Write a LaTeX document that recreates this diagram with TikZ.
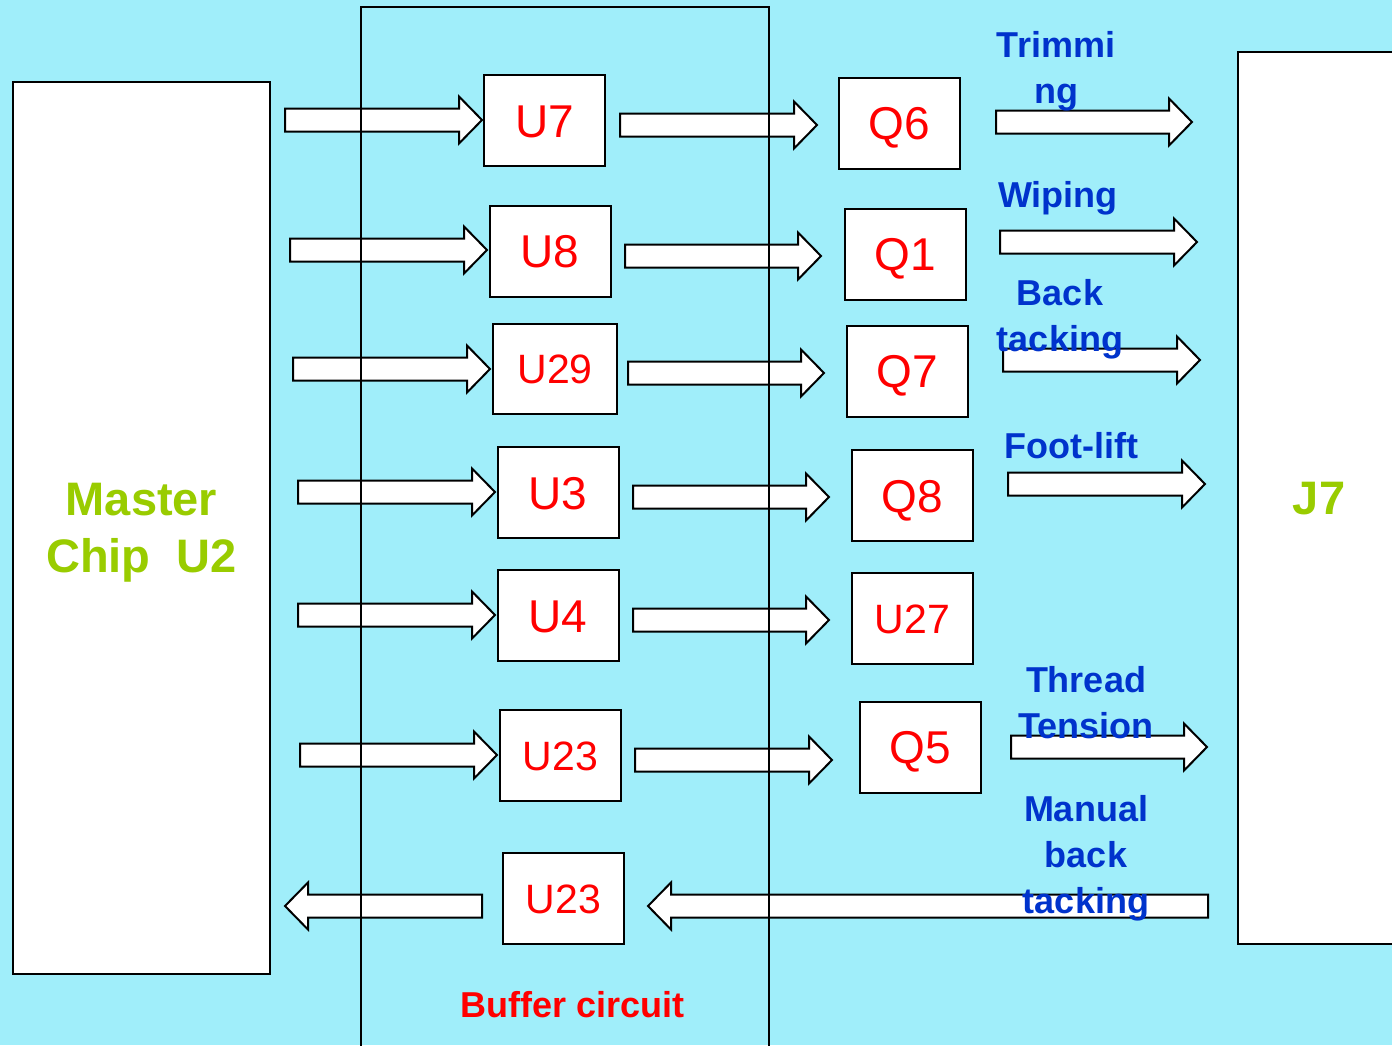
\documentclass[tikz,border=0pt]{standalone}
\usepackage{fontspec}
\setmainfont{Liberation Sans}
\usetikzlibrary{calc}
\definecolor{bg}{RGB}{160,238,250}
\definecolor{lblue}{RGB}{0,51,204}
\definecolor{lgreen}{RGB}{153,204,0}
\tikzset{
 chip/.style={draw=black, line width=2pt, fill=white, minimum width=121pt, minimum height=91pt, inner sep=0pt, text=red, font=\fontsize{46}{46}\selectfont, text height=33pt, text depth=0pt},
 chipsm/.style={chip, font=\fontsize{41}{41}\selectfont, text height=29.5pt},
 bigbox/.style={draw=black, line width=2pt, fill=white, inner sep=0pt, text=lgreen, align=center, font=\bfseries\fontsize{47}{57}\selectfont, text depth=0pt},
 barrow/.style={draw=black, line width=2pt, fill=white, line join=miter},
 lbl/.style={text=lblue, font=\bfseries\fontsize{36}{46}\selectfont, align=center, inner sep=0pt},
}
\newcommand\rarr[4]{%
 \coordinate (#1a) at (#2,#4);
 \coordinate (#1b) at (#3,#4);
 \draw[barrow] ($(#1a)+(0,-11.5)$) -- ($(#1b)+(-23,-11.5)$) -- ($(#1b)+(-23,-23.5)$) -- (#1b) -- ($(#1b)+(-23,23.5)$) -- ($(#1b)+(-23,11.5)$) -- ($(#1a)+(0,11.5)$) -- cycle;}
\newcommand\larr[4]{%
 \coordinate (#1a) at (#2,#4);
 \coordinate (#1b) at (#3,#4);
 \draw[barrow] ($(#1a)+(0,-11.5)$) -- ($(#1b)+(23,-11.5)$) -- ($(#1b)+(23,-23.5)$) -- (#1b) -- ($(#1b)+(23,23.5)$) -- ($(#1b)+(23,11.5)$) -- ($(#1a)+(0,11.5)$) -- cycle;}
\begin{document}
\begin{tikzpicture}[x=1pt,y=-1pt]
\useasboundingbox (0,0) rectangle (1392,1045);
\fill[bg] (0,0) rectangle (1392,1045);
% big boxes
\node[bigbox, minimum width=257pt, minimum height=892pt] (u2) at (141.5,528) {Master\\Chip\ \ U2};
\node[bigbox, minimum width=162pt, minimum height=892pt] (j7) at (1319,498) {J7};
% chips
\node[chip] (u7) at (544.5,120.5) {U7};
\node[chip] (q6) at (899.5,123) {Q6};
\node[chip] (u8) at (550,251) {U8};
\node[chip] (q1) at (905,254) {Q1};
\node[chipsm, minimum width=124pt, minimum height=90pt] (u29) at (555,369) {U29};
\node[chip] (q7) at (907.5,371) {Q7};
\node[chip] (u3) at (558,492.5) {U3};
\node[chip] (q8) at (912.5,495.5) {Q8};
\node[chip] (u4) at (558,615.5) {U4};
\node[chipsm] (u27) at (912.5,618.5) {U27};
\node[chipsm] (u23a) at (560.5,755.5) {U23};
\node[chip] (q5) at (920,747) {Q5};
\node[chipsm] (u23b) at (563.5,898.5) {U23};
% arrows
\rarr{a1}{285}{482}{120}
\rarr{a2}{620}{817}{125}
\rarr{a3}{996}{1192}{122}
\rarr{b1}{290}{487}{250}
\rarr{b2}{625}{821}{256}
\rarr{b3}{1000}{1197}{242}
\rarr{c1}{293}{490}{369}
\rarr{c2}{628}{824}{373}
\rarr{c3}{1003}{1200}{360}
\rarr{d1}{298}{495}{492}
\rarr{d2}{633}{829}{497}
\rarr{d3}{1008}{1205}{484}
\rarr{e1}{298}{495}{615}
\rarr{e2}{633}{829}{620}
\rarr{f1}{300}{497}{755}
\rarr{f2}{635}{832}{760}
\rarr{f3}{1011}{1207}{747}
\larr{g1}{482}{285}{906}
\larr{g2}{1208}{648}{906}
% buffer frame
\draw[line width=2pt] (361,1060) -- (361,7) -- (769,7) -- (769,1060);
\node[text=red, font=\bfseries\fontsize{36}{46}\selectfont, inner sep=0pt] (buf) at (573,1005) {Buffer circuit};
% labels
\node[lbl] (l1) at (1056,71) {Trimmi\\ng};
\node[lbl] (l2) at (1058,198) {Wiping};
\node[lbl] (l3) at (1060,319) {Back\\tacking};
\node[lbl] (l4) at (1071,446) {Foot-lift};
\node[lbl] (l5) at (1086,703) {Thread\\Tension};
\node[lbl] (l6) at (1086,858) {Manual\\back\\tacking};
\end{tikzpicture}
\end{document}
